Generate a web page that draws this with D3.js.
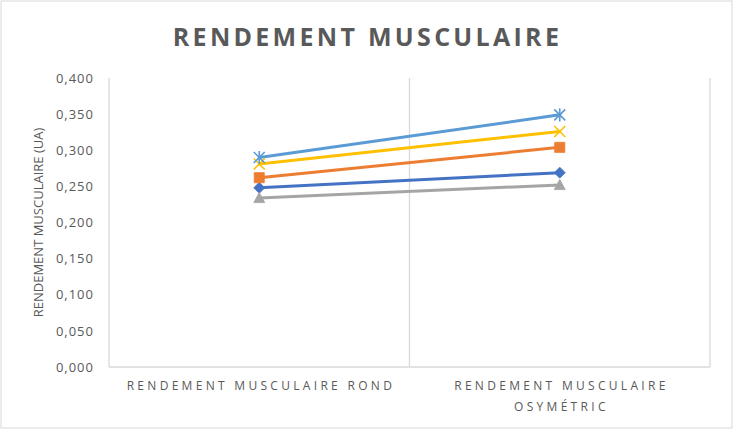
<!DOCTYPE html>
<html><head><meta charset="utf-8">
<script src="https://cdn.jsdelivr.net/npm/d3@7"></script>
<style>
html,body{margin:0;padding:0;background:#fff;}
svg{display:block;font-family:"Open Sans","Noto Sans",sans-serif;}
</style></head>
<body>
<svg id="c" width="734" height="430"></svg>
<script>
const categories = ["RENDEMENT MUSCULAIRE ROND", "RENDEMENT MUSCULAIRE OSYMÉTRIC"];
const categoryLines = [["RENDEMENT MUSCULAIRE ROND"], ["RENDEMENT MUSCULAIRE", "OSYMÉTRIC"]];
const series1 = [0.248, 0.269];
const series2 = [0.262, 0.304];
const series3 = [0.234, 0.252];
const series4 = [0.281, 0.326];
const series5 = [0.290, 0.349];
const yTicks = [0, 0.05, 0.1, 0.15, 0.2, 0.25, 0.3, 0.35, 0.4];
const title = "RENDEMENT MUSCULAIRE";
const yTitle = "RENDEMENT MUSCULAIRE (UA)";

const seriesList = [
  {values: series1, color: "#4472C4", marker: "diamond"},
  {values: series2, color: "#ED7D31", marker: "square"},
  {values: series3, color: "#A5A5A5", marker: "triangle"},
  {values: series4, color: "#FFC000", marker: "x"},
  {values: series5, color: "#5B9BD5", marker: "asterisk"}
];

const svg = d3.select("#c");
const W = 734, H = 430;
const plot = {left: 109, right: 710, top: 78, bottom: 367};

// chart border
svg.append("rect").attr("x", 1).attr("y", 1).attr("width", W - 3).attr("height", H - 3)
  .attr("fill", "#fff").attr("stroke", "#d9d9d9").attr("stroke-width", 1);

const x = d3.scaleBand().domain(categories).range([plot.left, plot.right]).paddingInner(0).paddingOuter(0);
const y = d3.scaleLinear().domain([0, 0.4]).range([plot.bottom, plot.top]);

const locale = d3.formatLocale({decimal: ",", thousands: " ", grouping: [3], currency: ["", "€"]});
const fmt = locale.format(".3f");

// vertical gridlines at category boundaries
const bounds = categories.map(c => x(c)).concat([x(categories[categories.length - 1]) + x.bandwidth()]);
svg.append("g").selectAll("line").data(bounds).join("line")
  .attr("x1", d => d).attr("x2", d => d)
  .attr("y1", y(0.4)).attr("y2", y(0))
  .attr("stroke", "#d9d9d9").attr("stroke-width", 1.3);

// x axis line
svg.append("line").attr("x1", plot.left).attr("x2", plot.right)
  .attr("y1", y(0)).attr("y2", y(0)).attr("stroke", "#d9d9d9").attr("stroke-width", 1.3);

// y axis (labels only)
const yAxis = d3.axisLeft(y).tickValues(yTicks).tickFormat(fmt).tickSize(0).tickPadding(15);
const ga = svg.append("g").attr("transform", `translate(${plot.left},0)`).call(yAxis);
ga.select(".domain").remove();
ga.selectAll("text").attr("fill", "#595959").attr("font-size", 13)
  .attr("letter-spacing", 1)
  .attr("font-family", "'Open Sans', sans-serif");

// category labels
const catSpacing = 3.3;
categoryLines.forEach((lines, i) => {
  const cx = x(categories[i]) + x.bandwidth() / 2 + catSpacing / 2;
  lines.forEach((ln, j) => {
    svg.append("text").attr("x", cx).attr("y", 390 + j * 21)
      .attr("text-anchor", "middle").attr("fill", "#595959")
      .attr("font-size", 12).attr("letter-spacing", catSpacing)
      .text(ln);
  });
});

// title
svg.append("text").attr("x", 367.5).attr("y", 46).attr("text-anchor", "middle")
  .attr("fill", "#595959").attr("font-size", 25).attr("font-weight", "bold")
  .attr("letter-spacing", 3.3).text(title);

// y title
svg.append("text").attr("transform", `translate(42.5,${(plot.top + plot.bottom) / 2}) rotate(-90)`)
  .attr("text-anchor", "middle").attr("fill", "#595959").attr("font-size", 13)
  .text(yTitle);

// markers
const symbols = {
  diamond: {draw(ctx, s) { const r = s; ctx.moveTo(0, -r); ctx.lineTo(r, 0); ctx.lineTo(0, r); ctx.lineTo(-r, 0); ctx.closePath(); }},
  square: {draw(ctx, s) { const r = s * 0.92; ctx.rect(-r, -r, 2 * r, 2 * r); }},
  triangle: {draw(ctx, s) { const r = s; ctx.moveTo(0, -r); ctx.lineTo(r, r * 0.85); ctx.lineTo(-r, r * 0.85); ctx.closePath(); }},
  x: {draw(ctx, s) { const r = s; ctx.moveTo(-r, -r); ctx.lineTo(r, r); ctx.moveTo(r, -r); ctx.lineTo(-r, r); }},
  asterisk: {draw(ctx, s) { const r = s; ctx.moveTo(-r, -r); ctx.lineTo(r, r); ctx.moveTo(r, -r); ctx.lineTo(-r, r); ctx.moveTo(0, -r * 1.2); ctx.lineTo(0, r * 1.2); }}
};
const stroked = {x: true, asterisk: true};

const line = d3.line().x((d, i) => x(categories[i]) + x.bandwidth() / 2).y(d => y(d));

seriesList.forEach(s => {
  svg.append("path").datum(s.values).attr("d", line)
    .attr("fill", "none").attr("stroke", s.color).attr("stroke-width", 3)
    .attr("stroke-linecap", "round");
});
seriesList.forEach(s => {
  const sym = d3.symbol().type(symbols[s.marker]).size(5.5);
  svg.append("g").selectAll("path").data(s.values).join("path")
    .attr("transform", (d, i) => `translate(${x(categories[i]) + x.bandwidth() / 2},${y(d)})`)
    .attr("d", sym)
    .attr("fill", stroked[s.marker] ? "none" : s.color)
    .attr("stroke", s.color)
    .attr("stroke-width", stroked[s.marker] ? 1.6 : 0.8);
});
</script>
</body></html>
